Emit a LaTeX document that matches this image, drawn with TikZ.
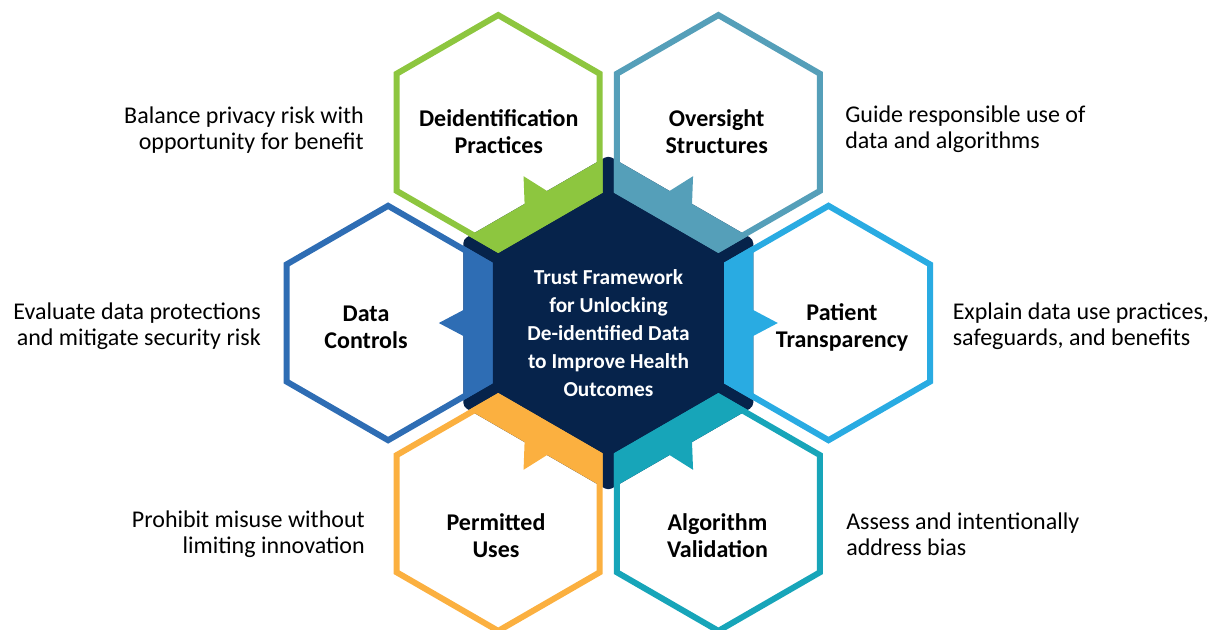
\documentclass[tikz,border=0pt]{standalone}
\usepackage{fontspec}
\setmainfont{Carlito}
\usetikzlibrary{calc}

\definecolor{navy}{HTML}{06234B}
\definecolor{deidgreen}{HTML}{8DC63F}
\definecolor{oversteel}{HTML}{559FB9}
\definecolor{ctrlblue}{HTML}{2E6DB4}
\definecolor{patsky}{HTML}{29ABE2}
\definecolor{useorange}{HTML}{FBB040}
\definecolor{algoteal}{HTML}{17A5B9}

\tikzset{
  hex/.style={insert path={++(30:#1) -- ++(150:#1) -- ++(210:#1) -- ++(270:#1) -- ++(330:#1) -- ++(30:#1) -- cycle}},
  hexline/.style={line width=4.5pt,line join=miter},
  title/.style={font=\fontsize{18}{20.25}\selectfont\bfseries,align=center,inner sep=0pt},
  descr/.style={font=\fontsize{18}{19.5}\selectfont,inner sep=0pt}
}

\begin{document}
\begin{tikzpicture}[x=0.75pt,y=-0.75pt]
\useasboundingbox (0,0) rectangle (1216,629);
\coordinate (c) at (608.3,323);
\fill[navy,rounded corners=3] (c) [hex=167.4];
\foreach \ang/\col in {240/deidgreen,300/oversteel,180/ctrlblue,0/patsky,120/useorange,60/algoteal} {
	\coordinate (h\ang) at ($(c)+(\ang:220.2)$);
	\begin{scope}
		\clip[rounded corners=3] (c) [hex=167.4];
		\filldraw[\col,hexline] (h\ang) [hex=117.2];
	\end{scope}
	\fill[\col] ($(c)+(\ang:143)+(\ang+90:14)$) -- ($(c)+(\ang:169.5)$) -- ($(c)+(\ang:143)+(\ang-90:14)$) -- cycle;
	\draw[\col,hexline] (h\ang) [hex=117.2];
}
\node[title] (deid) at (498.8,132) {Deidentification\\Practices};
\node[title] (overs) at (716.7,132) {Oversight\\Structures};
\node[title] (ctrl) at (366,327.5) {Data\\Controls};
\node[title] (transp) at (842,327.5) {Patient\\Transparency};
\node[title] (uses) at (496,536) {Permitted\\Uses};
\node[title] (algo) at (717.5,536) {Algorithm\\Validation};
\node[title,text=white,font=\fontsize{16}{21}\selectfont\bfseries] (core) at (608.5,333) {Trust Framework\\for Unlocking\\De-identified Data\\to Improve Health\\Outcomes};
\node[descr,anchor=east,align=right] (balance) at (364,130) {Balance privacy risk with\\opportunity for benefit};
\node[descr,anchor=east,align=right] (evaluate) at (261,326) {Evaluate data protections\\and mitigate security risk};
\node[descr,anchor=east,align=right] (prohibit) at (365,534.5) {Prohibit misuse without\\limiting innovation};
\node[descr,anchor=west,align=left] (guide) at (845,129) {Guide responsible use of\\data and algorithms};
\node[descr,anchor=west,align=left] (explain) at (952.5,326) {Explain data use practices,\\safeguards, and benefits};
\node[descr,anchor=west,align=left] (assess) at (846,534) {Assess and intentionally\\address bias};
\end{tikzpicture}
\end{document}
